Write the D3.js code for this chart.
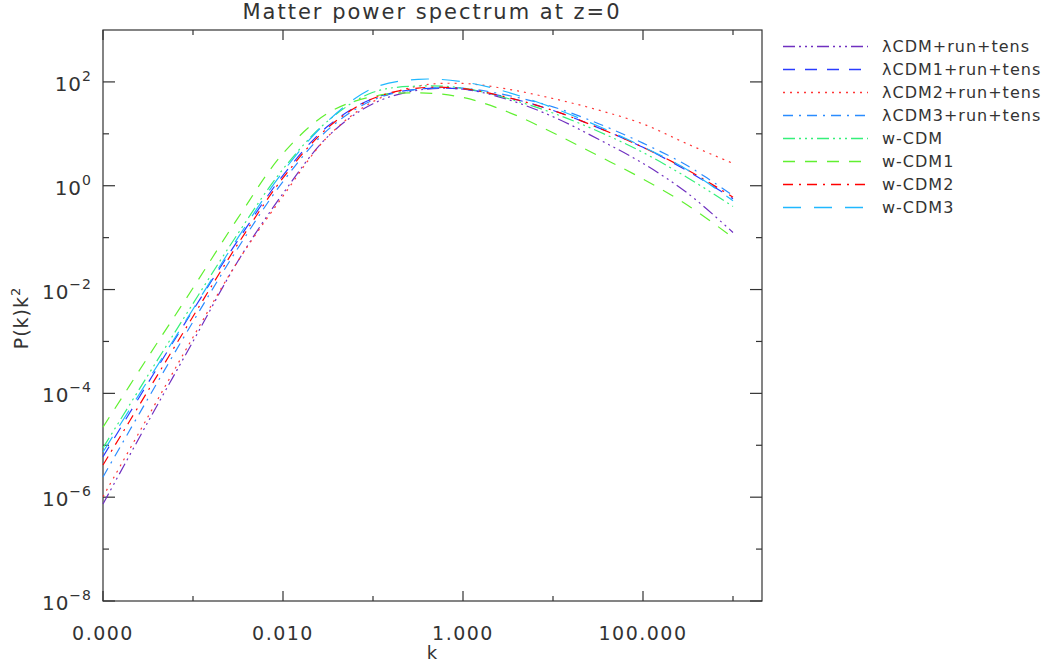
<!DOCTYPE html>
<html>
<head>
<meta charset="utf-8">
<script src="https://cdn.jsdelivr.net/npm/d3@7"></script>
<style>
  body { margin: 0; background: #fff; }
  svg text { font-family: "DejaVu Sans", "Liberation Sans", sans-serif; fill: #333; }
</style>
</head>
<body>
<svg id="chart" width="1060" height="665"></svg>
<script>
// log10(k) grid the curves are read at
var logK = [-4, -3.5, -3, -2.5, -2, -1.5, -1, -0.5, 0, 0.5, 1, 1.5, 2, 2.5, 3];

// log10(P(k) k^2) for every model
var lcdm  = [-6.13, -4.55, -3.00, -1.45, -0.15, 0.95, 1.58, 1.84, 1.86, 1.66, 1.33, 0.90, 0.43, -0.15, -0.90];
var lcdm1 = [-5.22, -3.80, -2.40, -1.05, 0.20, 1.15, 1.68, 1.86, 1.86, 1.70, 1.45, 1.12, 0.74, 0.28, -0.25];
var lcdm2 = [-5.99, -4.45, -2.92, -1.45, -0.20, 0.95, 1.62, 1.92, 1.97, 1.86, 1.68, 1.46, 1.19, 0.80, 0.43];
var lcdm3 = [-5.61, -4.10, -2.62, -1.20, 0.08, 1.08, 1.65, 1.86, 1.88, 1.74, 1.52, 1.20, 0.82, 0.38, -0.19];
var wcdm  = [-5.05, -3.65, -2.27, -0.92, 0.32, 1.25, 1.80, 1.92, 1.88, 1.68, 1.40, 1.05, 0.64, 0.15, -0.40];
var wcdm1 = [-4.65, -3.30, -1.97, -0.62, 0.62, 1.40, 1.72, 1.79, 1.70, 1.42, 1.02, 0.58, 0.13, -0.38, -1.00];
var wcdm2 = [-5.38, -3.95, -2.52, -1.12, 0.15, 1.12, 1.68, 1.88, 1.87, 1.70, 1.45, 1.12, 0.74, 0.30, -0.22];
var wcdm3 = [-5.13, -3.75, -2.38, -1.00, 0.27, 1.25, 1.88, 2.05, 2.00, 1.80, 1.50, 1.15, 0.75, 0.30, -0.29];

var seriesNames = ["λCDM+run+tens", "λCDM1+run+tens", "λCDM2+run+tens", "λCDM3+run+tens",
                   "w-CDM", "w-CDM1", "w-CDM2", "w-CDM3"];
var seriesData = [lcdm, lcdm1, lcdm2, lcdm3, wcdm, wcdm1, wcdm2, wcdm3];
var colors = ["#7030c0", "#2a3cff", "#ff3535", "#2a8cff", "#35f07a", "#60f030", "#ff0000", "#20b8ff"];
var dashes = ["12,4,2,4,2,4,2,4", "12,10", "2,5", "10,6,2,6",
              "12,4,2,4,2,4,2,4", "12,10", "10,6,2,6", "18,13"];

var xTicks = [1e-4, 1e-2, 1, 100];
var xMinor = [1e-3, 1e-1, 10, 1000];
var yTicks = [1e-8, 1e-6, 1e-4, 1e-2, 1, 100];
var yMinor = [1e-7, 1e-5, 1e-3, 1e-1, 10];

var plotL = 103, plotR = 762, plotT = 30, plotB = 601;

var svg = d3.select("#chart");

var x = d3.scaleLog().domain([1e-4, 2100]).range([plotL, plotR]);
var y = d3.scaleLog().domain([1e-8, 1e3]).range([plotB, plotT]);

// frame
svg.append("rect")
  .attr("x", plotL).attr("y", plotT)
  .attr("width", plotR - plotL).attr("height", plotB - plotT)
  .attr("fill", "none").attr("stroke", "#333").attr("stroke-width", 1.2);

// ticks, mirrored on the opposite side
var tickG = svg.append("g").attr("stroke", "#333").attr("stroke-width", 1.2);
function xTick(v, len) {
  tickG.append("line").attr("x1", x(v)).attr("x2", x(v)).attr("y1", plotB).attr("y2", plotB - len);
  tickG.append("line").attr("x1", x(v)).attr("x2", x(v)).attr("y1", plotT).attr("y2", plotT + len);
}
function yTick(v, len) {
  tickG.append("line").attr("x1", plotL).attr("x2", plotL + len).attr("y1", y(v)).attr("y2", y(v));
  tickG.append("line").attr("x1", plotR).attr("x2", plotR - len).attr("y1", y(v)).attr("y2", y(v));
}
xTicks.forEach(function (v) { xTick(v, 10); });
xMinor.forEach(function (v) { xTick(v, 5); });
yTicks.forEach(function (v) { yTick(v, 12); });
yMinor.forEach(function (v) { yTick(v, 6); });

// x labels
var fmt = d3.format(".3f");
svg.append("g").selectAll("text").data(xTicks).enter().append("text")
  .attr("x", function (d) { return x(d); })
  .attr("y", 640)
  .attr("text-anchor", "middle")
  .attr("font-size", 19)
  .attr("letter-spacing", 1.5)
  .text(function (d) { return fmt(d); });

// y labels: 10^n
var yl = svg.append("g").selectAll("text").data(yTicks).enter().append("text")
  .attr("x", 92)
  .attr("y", function (d) { return y(d) + 9; })
  .attr("text-anchor", "end")
  .attr("font-size", 20)
  .attr("letter-spacing", 1);
yl.append("tspan").text("10");
yl.append("tspan")
  .attr("dy", -10).attr("font-size", 14)
  .text(function (d) { var e = Math.round(Math.log10(d)); return e < 0 ? "\u2212" + (-e) : e; });

// titles
svg.append("text").attr("x", 432).attr("y", 19).attr("text-anchor", "middle")
  .attr("font-size", 21).attr("letter-spacing", 2).text("Matter power spectrum at z=0");
svg.append("text").attr("x", 432).attr("y", 659).attr("text-anchor", "middle")
  .attr("font-size", 18).text("k");
var yt = svg.append("text").attr("transform", "translate(28,318) rotate(-90)")
  .attr("text-anchor", "middle").attr("font-size", 19).attr("letter-spacing", 1);
yt.append("tspan").text("P(k)k");
yt.append("tspan").attr("dy", -8).attr("font-size", 13).text("2");

// curves
var line = d3.line()
  .x(function (d) { return x(d[0]); })
  .y(function (d) { return y(d[1]); })
  .curve(d3.curveCatmullRom);

seriesData.forEach(function (vals, i) {
  var pts = logK.map(function (lk, j) { return [Math.pow(10, lk), Math.pow(10, vals[j])]; });
  svg.append("path")
    .attr("d", line(pts))
    .attr("fill", "none")
    .attr("stroke", colors[i])
    .attr("stroke-width", 1.2)
    .attr("stroke-dasharray", dashes[i]);
});

// legend
var leg = svg.append("g");
seriesNames.forEach(function (name, i) {
  var ly = 46 + i * 23;
  leg.append("line")
    .attr("x1", 783).attr("x2", 868).attr("y1", ly + 0.5).attr("y2", ly + 0.5)
    .attr("stroke", colors[i]).attr("stroke-width", 1.5)
    .attr("stroke-dasharray", dashes[i]);
  leg.append("text")
    .attr("x", 882).attr("y", ly + 6)
    .attr("font-size", 16)
    .attr("letter-spacing", 1)
    .text(name);
});
</script>
</body>
</html>
